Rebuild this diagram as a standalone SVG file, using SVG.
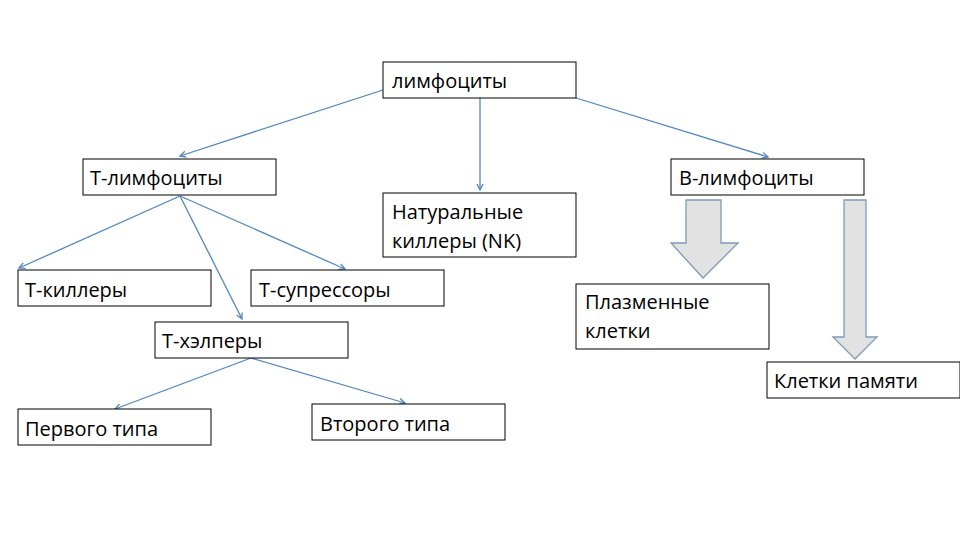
<svg xmlns="http://www.w3.org/2000/svg" width="960" height="540" viewBox="0 0 960 540">
<defs>
<style>
.box{fill:#fff;stroke:#000;stroke-width:1}
.t{font-family:"Open Sans","Liberation Sans",sans-serif;font-size:20px;fill:#000}
.c{stroke:#4f86c0;stroke-width:1.3;fill:none;marker-end:url(#ah)}
.blk{fill:#e2e2e2;stroke:#7f9ab8;stroke-width:1.3}
</style>
<marker id="ah" markerWidth="8" markerHeight="8" refX="6" refY="4" orient="auto" markerUnits="userSpaceOnUse">
<path d="M0,1 L6,4 L0,7" fill="none" stroke="#4f86c0" stroke-width="1.3"/>
</marker>
</defs>
<rect width="960" height="540" fill="#fff"/>
<g id="connectors">
<line class="c" x1="383" y1="90" x2="180" y2="156"/>
<line class="c" x1="480" y1="98" x2="480" y2="190"/>
<line class="c" x1="576" y1="98" x2="768" y2="157"/>
<line class="c" x1="180" y1="196" x2="19" y2="268"/>
<line class="c" x1="180" y1="196" x2="345" y2="269"/>
<line class="c" x1="180" y1="196" x2="242" y2="319"/>
<line class="c" x1="251" y1="358" x2="115" y2="409"/>
<line class="c" x1="251" y1="358" x2="405" y2="403"/>
<polygon class="blk" points="686,200 721,200 721,243 738,243 703,278 671,243 686,243"/>
<polygon class="blk" points="844,200 866,200 866,337 877,337 855,359 833,337 844,337"/>
</g>
<g id="n-lymph"><rect class="box" x="383" y="62" width="193" height="36"/><text class="t" x="392" y="88">лимфоциты</text></g>
<g id="n-t"><rect class="box" x="83" y="159" width="193" height="36"/><text class="t" x="90" y="185">Т-лимфоциты</text></g>
<g id="n-b"><rect class="box" x="671" y="159" width="193" height="36"/><text class="t" x="679" y="185">В-лимфоциты</text></g>
<g id="n-nk"><rect class="box" x="383" y="193" width="193" height="64"/><text class="t" x="392" y="219">Натуральные</text><text class="t" x="392" y="248">киллеры (NK)</text></g>
<g id="n-tk"><rect class="box" x="18" y="270" width="193" height="36"/><text class="t" x="25" y="297">Т-киллеры</text></g>
<g id="n-ts"><rect class="box" x="251" y="270" width="193" height="36"/><text class="t" x="259" y="297">Т-супрессоры</text></g>
<g id="n-th"><rect class="box" x="155" y="322" width="193" height="36"/><text class="t" x="162" y="348">Т-хэлперы</text></g>
<g id="n-plasma"><rect class="box" x="576" y="284" width="193" height="65"/><text class="t" x="585" y="309">Плазменные</text><text class="t" x="585" y="338">клетки</text></g>
<g id="n-mem"><rect class="box" x="767" y="362" width="193" height="36"/><text class="t" x="774" y="388">Клетки памяти</text></g>
<g id="n-t1"><rect class="box" x="18" y="409" width="193" height="36"/><text class="t" x="25" y="436">Первого типа</text></g>
<g id="n-t2"><rect class="box" x="312" y="404" width="193" height="36"/><text class="t" x="320" y="431">Второго типа</text></g>
</svg>
